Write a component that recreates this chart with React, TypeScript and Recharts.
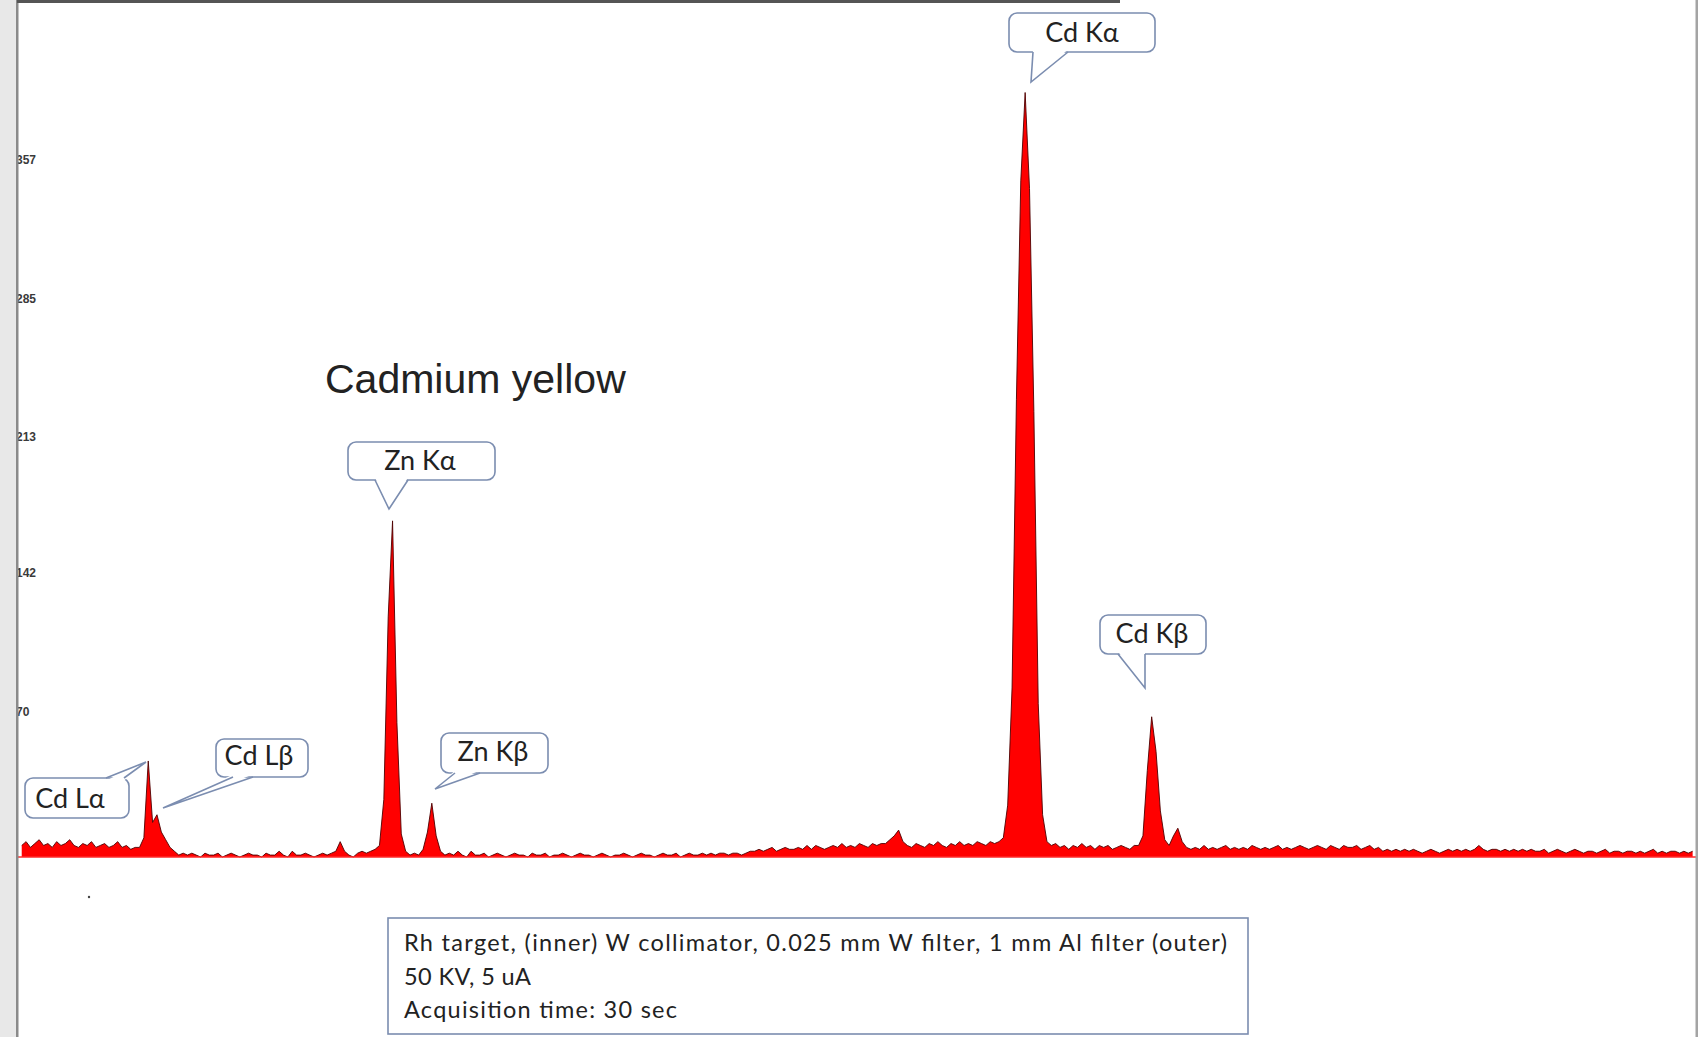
import React from 'react';
import { AreaChart, Area, XAxis, YAxis, ReferenceLine } from 'recharts';

// X-ray fluorescence spectrum, channel width 0.1 keV
const STEP_KEV = 0.1;
const segmentStarts = [0.2, 5.0, 10.0, 15.0, 20.0, 25.0, 30.0, 35.0];

// counts, 0.2 – 4.9 keV (Cd L lines)
const counts00 = [6, 8, 5, 7, 9, 6, 7, 5, 8, 6, 7, 9, 6, 5, 7, 6, 8, 5, 6, 7, 5, 6, 8, 5, 6, 4, 5, 5, 10, 50, 18, 22, 13, 9, 5, 3, 1, 2, 1, 2, 1, 0, 2, 1, 1, 2, 0, 1];
// counts, 5.0 – 9.9 keV (Zn K lines)
const counts05 = [2, 1, 0, 1, 2, 1, 1, 0, 2, 1, 1, 3, 1, 0, 3, 1, 1, 2, 1, 0, 1, 2, 1, 2, 3, 8, 3, 1, 0, 2, 3, 2, 3, 4, 6, 30, 125, 175, 70, 12, 3, 1, 2, 1, 4, 13, 28, 11, 3, 1];
// counts, 10.0 – 14.9 keV
const counts10 = [2, 1, 3, 1, 0, 3, 1, 1, 2, 0, 1, 2, 1, 0, 1, 2, 1, 1, 0, 2, 1, 1, 2, 0, 1, 1, 2, 1, 0, 1, 2, 1, 1, 0, 1, 2, 1, 0, 1, 1, 2, 1, 0, 1, 2, 1, 1, 0, 1, 2];
// counts, 15.0 – 19.9 keV
const counts15 = [1, 1, 2, 0, 1, 2, 1, 1, 2, 1, 2, 1, 2, 2, 1, 2, 2, 1, 2, 3, 3, 4, 3, 4, 5, 3, 4, 5, 4, 4, 5, 4, 6, 4, 6, 5, 4, 5, 6, 5, 7, 5, 6, 5, 7, 6, 5, 7, 6, 7];
// counts, 20.0 – 24.9 keV (Rh scatter, Cd Kα)
const counts20 = [7, 9, 11, 14, 8, 6, 5, 7, 6, 5, 7, 6, 8, 6, 5, 7, 6, 8, 6, 7, 6, 8, 7, 6, 8, 7, 8, 10, 27, 88, 238, 352, 398, 348, 232, 80, 22, 8, 6, 7, 5, 6, 4, 6, 5, 7, 5, 6, 4, 6];
// counts, 25.0 – 29.9 keV (Cd Kβ)
const counts25 = [5, 6, 4, 5, 6, 5, 4, 6, 6, 11, 45, 73, 55, 24, 9, 6, 11, 15, 8, 5, 4, 5, 4, 6, 4, 5, 4, 5, 6, 4, 5, 4, 5, 4, 6, 5, 4, 5, 4, 5, 6, 4, 5, 4, 5, 6, 5, 4, 5, 6];
// counts, 30.0 – 34.9 keV
const counts30 = [5, 4, 6, 5, 4, 6, 5, 5, 6, 4, 5, 6, 4, 5, 3, 4, 3, 4, 3, 4, 3, 4, 3, 2, 3, 4, 3, 2, 3, 4, 3, 4, 3, 4, 3, 4, 6, 4, 3, 4, 4, 3, 4, 3, 4, 3, 4, 3, 4, 3];
// counts, 35.0 – 38.5 keV
const counts35 = [3, 4, 2, 3, 4, 3, 2, 3, 4, 3, 2, 3, 3, 2, 3, 4, 2, 3, 3, 2, 3, 3, 2, 3, 2, 3, 4, 2, 3, 2, 3, 3, 2, 3, 2, 3];

const segments = [counts00, counts05, counts10, counts15, counts20, counts25, counts30, counts35];

const yTicks = [70, 142, 213, 285, 357];
const energyDomain = [0, 38.6];
const countDomain = [0, 444.6];

const titleText = 'Cadmium yellow';
const infoLines = [
  'Rh target, (inner) W collimator, 0.025 mm W filter, 1 mm Al filter (outer)',
  '50 KV, 5 uA',
  'Acquisition time: 30 sec',
];

type Callout = {
  label: string;
  box: [number, number, number, number];
  side: 'top' | 'bottom';
  base: [number, number];
  tip: [number, number];
  text: [number, number];
};

const callouts: Callout[] = [
  { label: 'Cd Kα', box: [1009, 13, 146, 39], side: 'bottom', base: [1033, 1068], tip: [1031, 82], text: [1082, 42] },
  { label: 'Zn Kα', box: [348, 442, 147, 38], side: 'bottom', base: [375, 408], tip: [389, 509], text: [420, 470] },
  { label: 'Zn Kβ', box: [441, 733, 107, 40], side: 'bottom', base: [455, 480], tip: [435, 789], text: [493, 761] },
  { label: 'Cd Kβ', box: [1100, 615, 106, 39], side: 'bottom', base: [1118, 1145], tip: [1145, 688], text: [1152, 643] },
  { label: 'Cd Lβ', box: [216, 739, 92, 38], side: 'bottom', base: [233, 253], tip: [163, 808], text: [259, 765] },
  { label: 'Cd Lα', box: [25, 778, 104, 40], side: 'top', base: [106, 124], tip: [146, 762], text: [70, 808] },
];

const data = segments.flatMap((seg, s) =>
  seg.map((c, i) => ({ e: Math.round((segmentStarts[s] + i * STEP_KEV) * 100) / 100, c }))
);

const BORDER = '#7b8db0';
const LABEL_FONT = 'Lato, "Open Sans", sans-serif';

const renderYTick = (props: any) => {
  const { y, payload } = props;
  return (
    <text x={16} y={y - 7} fontSize={12} fontWeight={700} fill="#3a3a3a" fontFamily="Liberation Sans, Arial, sans-serif">
      {payload.value}
    </text>
  );
};

function CalloutShape({ c }: { c: Callout }) {
  const [x, y, w, h] = c.box;
  const edgeY = c.side === 'bottom' ? y + h : y;
  const inset = c.side === 'bottom' ? -2.5 : 2.5;
  const [b1, b2] = c.base;
  const [tx, ty] = c.tip;
  return (
    <g>
      <rect x={x} y={y} width={w} height={h} rx={8} ry={8} fill="#fff" stroke={BORDER} strokeWidth={1.6} />
      <polygon points={`${b1},${edgeY + inset} ${tx},${ty} ${b2},${edgeY + inset}`} fill="#fff" stroke="none" />
      <polyline points={`${b1},${edgeY} ${tx},${ty} ${b2},${edgeY}`} fill="none" stroke={BORDER} strokeWidth={1.6} strokeLinejoin="miter" />
      <text x={c.text[0]} y={c.text[1]} textAnchor="middle" fontSize={27} fill="#222" fontFamily={LABEL_FONT}>
        {c.label}
      </text>
    </g>
  );
}

export default function App() {
  return (
    <div style={{ position: 'absolute', left: 0, top: 0, width: 1698, height: 1037, background: '#fff', overflow: 'hidden' }}>
      <AreaChart width={1698} height={1037} data={data} margin={{ top: 3, right: 1, bottom: 180, left: 13 }}>
        <XAxis type="number" dataKey="e" domain={energyDomain} hide />
        <YAxis
          type="number"
          domain={countDomain}
          ticks={yTicks}
          interval={0}
          mirror
          axisLine={false}
          tickLine={false}
          tick={renderYTick}
        />
        <ReferenceLine y={0} stroke="#ff2a2a" strokeWidth={1.5} />
        <Area
          type="linear"
          dataKey="c"
          stroke="#4d0000"
          strokeWidth={0.9}
          fill="#ff0000"
          fillOpacity={1}
          dot={false}
          activeDot={false}
          isAnimationActive={false}
        />
      </AreaChart>
      <svg width={1698} height={1037} style={{ position: 'absolute', left: 0, top: 0, pointerEvents: 'none' }}>
        {/* page frame */}
        <rect x={0} y={0} width={16} height={1037} fill="#e8e8e8" />
        <rect x={16} y={0} width={2.5} height={1037} fill="#8a8a8a" />
        <rect x={17} y={0} width={1103} height={3} fill="#555" />
        <rect x={1695.5} y={0} width={2.5} height={1037} fill="#a4a4a4" />
        <circle cx={89} cy={897} r={1.2} fill="#444" />

        <text x={325} y={393} fontSize={41} fill="#222" fontFamily="Liberation Sans, Arial, sans-serif">
          {titleText}
        </text>

        {callouts.map((c) => (
          <CalloutShape key={c.label} c={c} />
        ))}

        <rect x={388} y={918} width={860} height={116} fill="#fff" stroke={BORDER} strokeWidth={1.6} />
        <text x={404} y={951} fontSize={23.5} fill="#222" fontFamily={LABEL_FONT} textLength={823} lengthAdjust="spacing">
          {infoLines[0]}
        </text>
        <text x={404} y={985} fontSize={23.5} fill="#222" fontFamily={LABEL_FONT} textLength={127} lengthAdjust="spacing">
          {infoLines[1]}
        </text>
        <text x={404} y={1018} fontSize={23.5} fill="#222" fontFamily={LABEL_FONT} textLength={273} lengthAdjust="spacing">
          {infoLines[2]}
        </text>
      </svg>
    </div>
  );
}
